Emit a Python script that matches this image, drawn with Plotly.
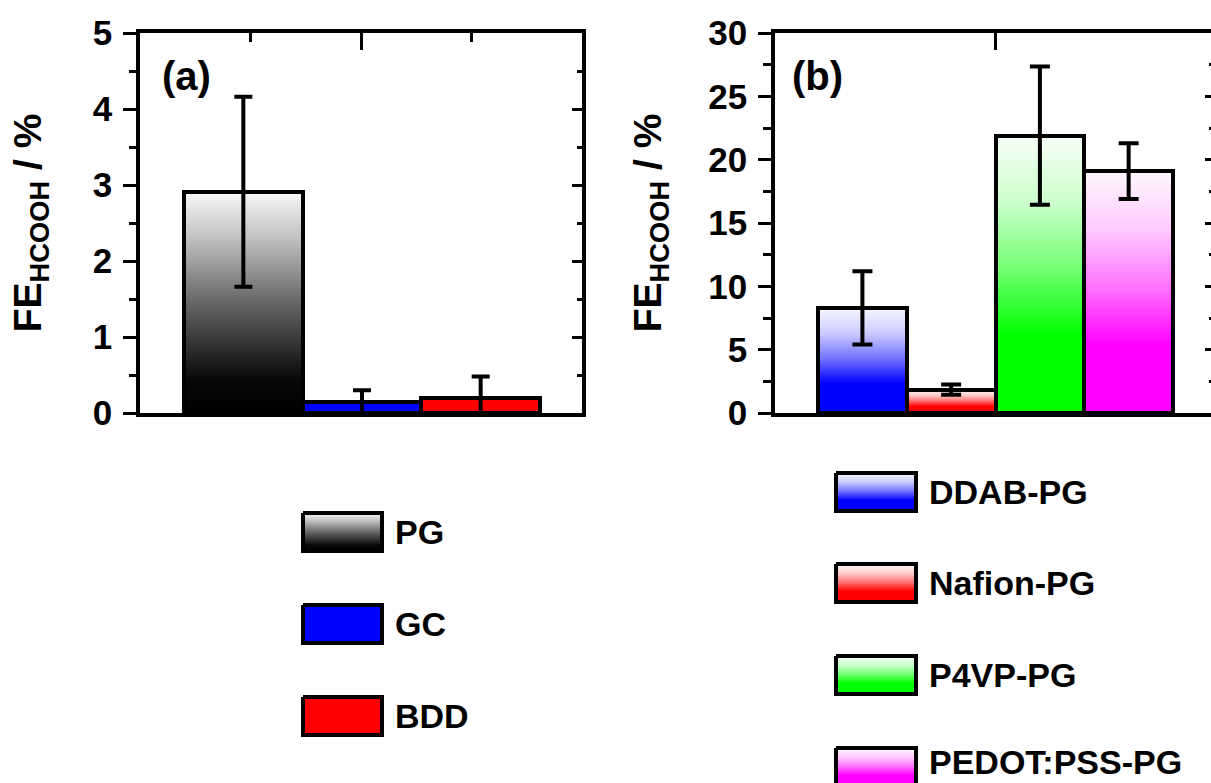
import plotly.graph_objects as go

W, H = 1211, 783
FONT = "Liberation Sans, Arial, sans-serif"

# ---------------- data ----------------
cats_a = ["PG", "GC", "BDD"]
fe_a = [2.91, 0.15, 0.20]
err_a = [1.25, 0.15, 0.28]

cats_b = ["DDAB-PG", "Nafion-PG", "P4VP-PG", "PEDOT:PSS-PG"]
fe_b = [8.3, 1.85, 21.9, 19.1]
err_b = [2.9, 0.4, 5.45, 2.2]

yticks_a = [0, 1, 2, 3, 4, 5]
yticks_b = [0, 5, 10, 15, 20, 25, 30]
ytitle = "FE<sub>HCOOH</sub> / %"

# ---------------- styles ----------------
def mix_white(hexc, t):
    r, g, b = int(hexc[1:3], 16), int(hexc[3:5], 16), int(hexc[5:7], 16)
    return "rgb(%d,%d,%d)" % (round(r + (255 - r) * t), round(g + (255 - g) * t), round(b + (255 - b) * t))

def fade(c):
    return [[0, c], [0.28, c], [0.52, mix_white(c, 0.45)], [0.76, mix_white(c, 0.8)], [1, mix_white(c, 0.97)]]

grey_scale = [[0, "#000000"], [0.15, "#080808"], [0.5, "#666666"], [0.8, "#c4c4c4"], [1, "#f8f8f8"]]

fills_a = [("grad", grey_scale), ("solid", "#0000ff"), ("solid", "#ff0000")]
fills_b = [("grad", fade("#0000ff")), ("grad", fade("#ff0000")),
           ("grad", fade("#00ff00")), ("grad", fade("#ff00ff"))]

RA = [-0.871, 2.854]
RB = [-0.985, 3.928]
DOM_XA = [140 / W, 582 / W]
DOM_XB = [775 / W, 1.0]
DOM_Y = [1 - 413 / H, 1 - 33 / H]
LW = 3.5


def rect_trace(x0, x1, y0, y1, fill, xaxis, yaxis, line_w=0):
    kind, spec = fill
    tr = dict(x=[x0, x1, x1, x0, x0], y=[y0, y0, y1, y1, y0], mode="lines",
              fill="toself", xaxis=xaxis, yaxis=yaxis, showlegend=False, hoverinfo="skip",
              line=dict(color="black", width=line_w) if line_w else dict(width=0))
    if kind == "grad":
        tr["fillgradient"] = dict(type="vertical", colorscale=spec)
    else:
        tr["fillcolor"] = spec
    return go.Scatter(**tr)


fig = go.Figure()

# gradient fills (base subplots)
for i, v in enumerate(fe_a):
    fig.add_trace(rect_trace(i - 0.5, i + 0.5, 0, v, fills_a[i], "x", "y"))
for i, v in enumerate(fe_b):
    fig.add_trace(rect_trace(i - 0.5, i + 0.5, 0, v, fills_b[i], "x2", "y2"))

# bars with outlines and error bars (overlay subplots, drawn above fills)
minus_a = [min(e, v) for e, v in zip(err_a, fe_a)]
minus_b = [min(e, v) for e, v in zip(err_b, fe_b)]
fig.add_trace(go.Bar(x=list(range(len(cats_a))), y=fe_a, width=1, xaxis="x3", yaxis="y3",
                     name="(a)", hovertext=cats_a, showlegend=False,
                     marker=dict(color="rgba(0,0,0,0)", line=dict(color="black", width=4)),
                     error_y=dict(type="data", symmetric=False, array=err_a, arrayminus=minus_a,
                                  thickness=4, width=9, color="black")))
fig.add_trace(go.Bar(x=list(range(len(cats_b))), y=fe_b, width=1, xaxis="x4", yaxis="y4",
                     name="(b)", hovertext=cats_b, showlegend=False,
                     marker=dict(color="rgba(0,0,0,0)", line=dict(color="black", width=4)),
                     error_y=dict(type="data", symmetric=False, array=err_b, arrayminus=minus_b,
                                  thickness=4, width=10, color="black")))

# custom legend keys (full-figure pixel axes)
leg_a_y = [532, 624, 716]
for name, fill, yc in zip(cats_a, fills_a, leg_a_y):
    fig.add_trace(rect_trace(303, 382, yc - 19, yc + 19, fill, "x5", "y5", line_w=4))
leg_b_y = [492, 583, 675, 767]
for name, fill, yc in zip(cats_b, fills_b, leg_b_y):
    fig.add_trace(rect_trace(836, 916, yc - 19, yc + 19, fill, "x5", "y5", line_w=4))

tickfont = dict(family=FONT, size=35, color="black", weight="bold")
titlefont = dict(family=FONT, size=39, color="black", weight="bold")
common = dict(showgrid=False, zeroline=False, linecolor="black", linewidth=LW,
              tickcolor="black", tickwidth=3, automargin=False)

layout = dict(
    width=W, height=H, margin=dict(l=0, r=0, t=0, b=0),
    paper_bgcolor="white", plot_bgcolor="rgba(0,0,0,0)",
    template="none", showlegend=False, bargap=0,
    # panel (a)
    xaxis=dict(domain=DOM_XA, range=RA, anchor="y", showline=True, ticks="",
               showticklabels=False, **common),
    yaxis=dict(domain=DOM_Y, range=[0, 5], anchor="x", showline=True, ticks="outside",
               ticklen=13, tickmode="array", tickvals=yticks_a, tickfont=tickfont,
               ticklabelstandoff=4,
               minor=dict(ticks="outside", ticklen=7, tickwidth=3, tickcolor="black", dtick=0.5),
               title=dict(text=ytitle, font=titlefont, standoff=40), **common),
    xaxis3=dict(overlaying="x", anchor="y", side="top", range=RA, showline=True, ticks="inside",
                ticklen=17, tickmode="array",
                tickvals=[RA[0] + 0.5 * (RA[1] - RA[0])], showticklabels=False,
                minor=dict(ticks="inside", ticklen=9, tickwidth=3, tickcolor="black", tickmode="array",
                           tickvals=[RA[0] + 0.25 * (RA[1] - RA[0]), RA[0] + 0.75 * (RA[1] - RA[0])]),
                **common),
    yaxis3=dict(overlaying="y", anchor="x", side="right", range=[0, 5], showline=True, ticks="inside",
                ticklen=10, tickmode="array", tickvals=yticks_a, showticklabels=False,
                minor=dict(ticks="inside", ticklen=5, tickwidth=3, tickcolor="black", dtick=0.5),
                **common),
    # panel (b)
    xaxis2=dict(domain=DOM_XB, range=RB, anchor="y2", showline=True, ticks="",
                showticklabels=False, **common),
    yaxis2=dict(domain=DOM_Y, range=[0, 30], anchor="x2", showline=True, ticks="outside",
                ticklen=13, tickmode="array", tickvals=yticks_b, tickfont=tickfont,
                ticklabelstandoff=4,
                minor=dict(ticks="outside", ticklen=8, tickwidth=3, tickcolor="black", dtick=2.5),
                title=dict(text=ytitle, font=titlefont, standoff=36), **common),
    xaxis4=dict(overlaying="x2", anchor="y2", side="top", range=RB, showline=True, ticks="inside",
                ticklen=17, tickmode="array", tickvals=[1.5], showticklabels=False, **common),
    yaxis4=dict(overlaying="y2", anchor="x2", side="right", range=[0, 30], showline=False,
                ticks="inside", ticklen=6, tickmode="array", tickvals=yticks_b, showticklabels=False,
                minor=dict(ticks="inside", ticklen=2, tickwidth=3, tickcolor="black", dtick=2.5),
                **common),
    # legend canvas
    xaxis5=dict(domain=[0, 1], range=[0, W], anchor="y5", visible=False, fixedrange=True),
    yaxis5=dict(domain=[0, 1], range=[H, 0], anchor="x5", visible=False, fixedrange=True),
)
fig.update_layout(**layout)

ann = []
labfont = dict(family=FONT, size=40, color="black", weight="bold")
ann.append(dict(text="(a)", x=187 / W, y=1 - 76 / H, xref="paper", yref="paper",
                xanchor="center", yanchor="middle", showarrow=False, font=labfont))
ann.append(dict(text="(b)", x=817 / W, y=1 - 76 / H, xref="paper", yref="paper",
                xanchor="center", yanchor="middle", showarrow=False, font=labfont))
legfont = dict(family=FONT, size=34, color="black", weight="bold")
for name, yc in zip(cats_a, leg_a_y):
    ann.append(dict(text=name, x=393 / W, y=1 - yc / H, xref="paper", yref="paper",
                    xanchor="left", yanchor="middle", showarrow=False, font=legfont))
leg_b_text_y = [492, 583, 675, 762]
for name, yc in zip(cats_b, leg_b_text_y):
    ann.append(dict(text=name, x=927 / W, y=1 - yc / H, xref="paper", yref="paper",
                    xanchor="left", yanchor="middle", showarrow=False, font=legfont))
fig.update_layout(annotations=ann)

fig.write_html("out.html")
